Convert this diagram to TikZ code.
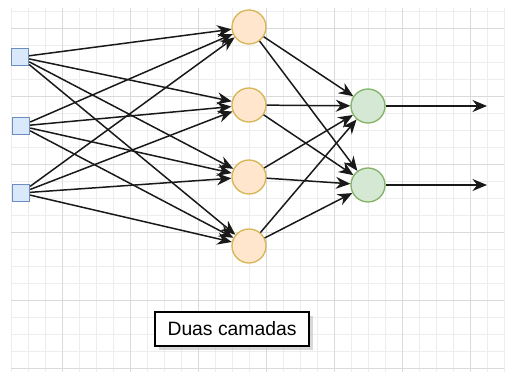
\documentclass[tikz,border=0pt]{standalone}
\usepackage{fontspec}
\setmainfont{Liberation Sans}
\usepackage{xcolor}
\usepackage{tikz}
\usetikzlibrary{arrows.meta,shadows}
\definecolor{inblue}{HTML}{DAE8FC}
\definecolor{inbluedraw}{HTML}{6C8EBF}
\definecolor{hidorange}{HTML}{FFE6CC}
\definecolor{hidorangedraw}{HTML}{D6B656}
\definecolor{outgreen}{HTML}{D5E8D4}
\definecolor{outgreendraw}{HTML}{82B366}
\definecolor{gridminor}{HTML}{EDEDED}
\definecolor{gridmajor}{HTML}{DADADA}

\begin{document}
\begin{tikzpicture}[x=0.02cm, y=-0.02cm,
  inbox/.style={draw=inbluedraw,fill=inblue,line width=0.75pt,minimum size=0.34cm,inner sep=0pt},
  hidnode/.style={circle,draw=hidorangedraw,fill=hidorange,line width=0.75pt,minimum size=0.68cm,inner sep=0pt},
  outnode/.style={circle,draw=outgreendraw,fill=outgreen,line width=0.75pt,minimum size=0.68cm,inner sep=0pt},
  link/.style={-{Stealth[length=2.9mm,width=2.4mm]},line width=0.85pt,black!90},
  every node/.style={font=\fontsize{11}{13}\selectfont,align=center}]
  \useasboundingbox (0,0) rectangle (511,374);
  % background grid
  \foreach \gx in {11,28,...,504} \draw[gridminor,line width=0.4pt] (\gx,8) -- (\gx,372);
  \foreach \gy in {11,28,...,368} \draw[gridminor,line width=0.4pt] (11,\gy) -- (504,\gy);
  \foreach \gx in {62,130,...,470} \draw[gridmajor,line width=0.4pt] (\gx,8) -- (\gx,372);
  \foreach \gy in {28,96,...,368} \draw[gridmajor,line width=0.4pt] (11,\gy) -- (504,\gy);

  % input layer
  \node[inbox] (in1) at (20,57) {};
  \node[inbox] (in2) at (21,126) {};
  \node[inbox] (in3) at (21,193) {};
  % hidden layer
  \node[hidnode] (h1) at (249,27) {};
  \node[hidnode] (h2) at (249,105) {};
  \node[hidnode] (h3) at (249,177) {};
  \node[hidnode] (h4) at (249,246) {};
  % output layer
  \node[outnode] (o1) at (368,106) {};
  \node[outnode] (o2) at (368,185) {};
  \coordinate (y1) at (487,106);
  \coordinate (y2) at (487,185);

  \node[draw,fill=white,line width=0.7pt,minimum width=3.08cm,minimum height=0.68cm,
    drop shadow={shadow xshift=2pt,shadow yshift=-2pt,fill=black!30}] (label) at (232,329) {Duas camadas};

  \foreach \i in {in1,in2,in3}
    \foreach \h in {h1,h2,h3,h4}
      \draw[link] (\i) -- (\h);
  \foreach \h in {h1,h2,h3,h4}
    \foreach \o in {o1,o2}
      \draw[link] (\h) -- (\o);
  \draw[link] (o1) -- (y1);
  \draw[link] (o2) -- (y2);
\end{tikzpicture}
\end{document}
